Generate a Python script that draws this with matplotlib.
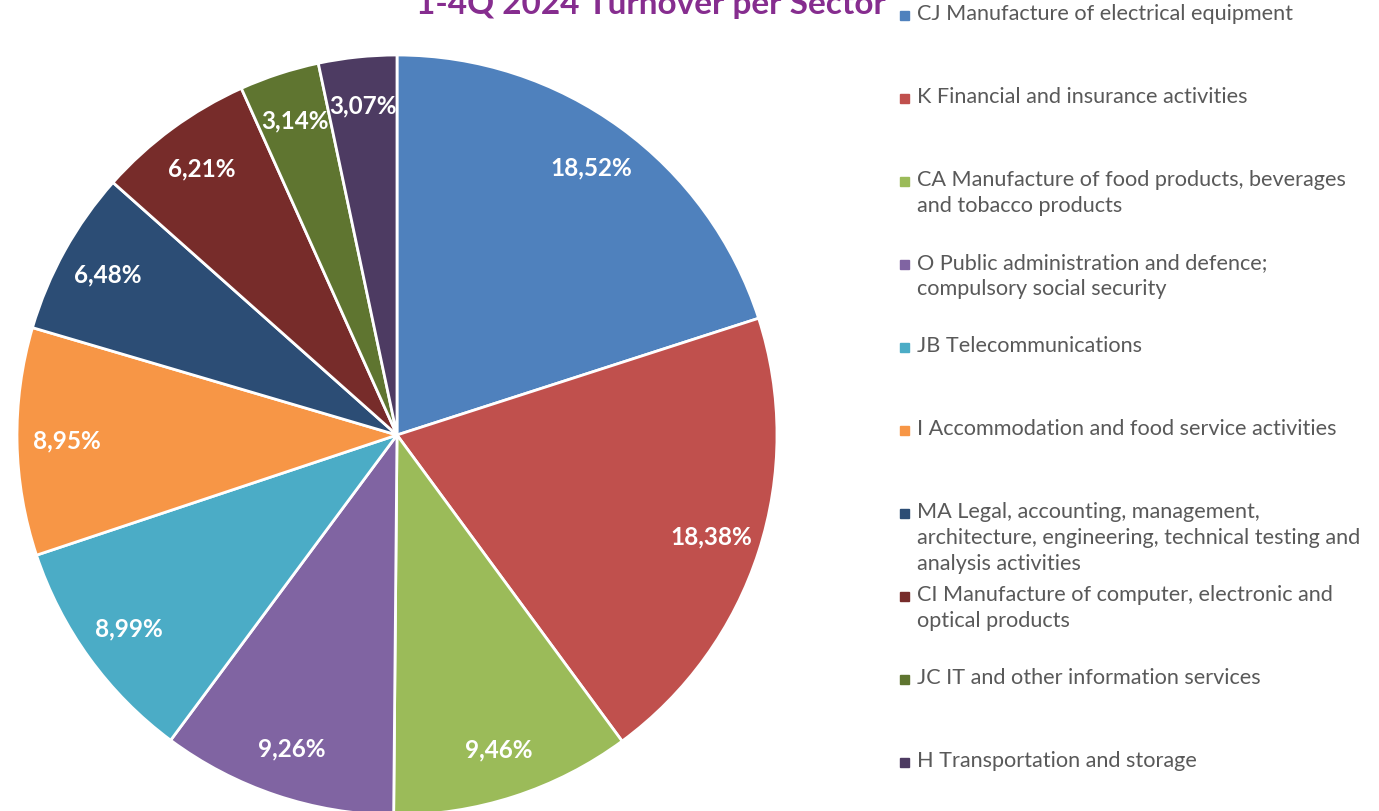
import matplotlib
matplotlib.use("Agg")
import matplotlib.pyplot as plt
import numpy as np

plt.rcParams['font.family'] = ['Lato', 'DejaVu Sans']

# data
sectors = [
    "CJ Manufacture of electrical equipment",
    "K Financial and insurance activities",
    "CA Manufacture of food products, beverages\nand tobacco products",
    "O Public administration and defence;\ncompulsory social security",
    "JB Telecommunications",
    "I Accommodation and food service activities",
    "MA Legal, accounting, management,\narchitecture, engineering, technical testing and\nanalysis activities",
    "CI Manufacture of computer, electronic and\noptical products",
    "JC IT and other information services",
    "H Transportation and storage",
]
shares = [18.52, 18.38, 9.46, 9.26, 8.99, 8.95, 6.48, 6.21, 3.14, 3.07]
colors = ["#4F81BD", "#C0504D", "#9BBB59", "#8064A2", "#4BACC6",
          "#F79646", "#2C4D75", "#772C2A", "#5F7530", "#4D3B62"]

W, H = 1379, 811
fig = plt.figure(figsize=(W / 100, H / 100), dpi=100)

# pie placed by pixel centre / radius
cx, cy, r = 397, 435, 380
ax = fig.add_axes([(cx - r) / W, (H - cy - r) / H, 2 * r / W, 2 * r / H])
labels_pct = [f"{v:.2f}%".replace(".", ",") for v in shares]
wedges, _ = ax.pie(shares, colors=colors, startangle=90, counterclock=False,
                   wedgeprops=dict(edgecolor="white", linewidth=2))
for w, txt in zip(wedges, labels_pct):
    ang = np.deg2rad((w.theta1 + w.theta2) / 2)
    ax.text(0.87 * np.cos(ang), 0.87 * np.sin(ang), txt, ha="center", va="center",
            color="white", fontsize=17.5, fontweight="bold")
ax.set_xlim(-1, 1)
ax.set_ylim(-1, 1)
ax.set_aspect("equal")
ax.axis("off")

# title (clipped at top as in the original)
fig.text(651 / W, 1 - 14 / H, "1-4Q 2024 Turnover per Sector", ha="center", va="baseline",
         color="#862D8F", fontsize=24, fontweight="bold")

# legend drawn by hand, one slot per entry
for i, (name, c) in enumerate(zip(sectors, colors)):
    y = 15 + 83 * i
    fig.patches.append(plt.Rectangle((900 / W, 1 - (y + 5) / H), 9 / W, 9 / H,
                                     transform=fig.transFigure, color=c))
    fig.text(917 / W, 1 - (y - 11) / H, name, ha="left", va="top",
             color="#595959", fontsize=15.6, linespacing=1.38)

fig.savefig("out.png", dpi=100)
